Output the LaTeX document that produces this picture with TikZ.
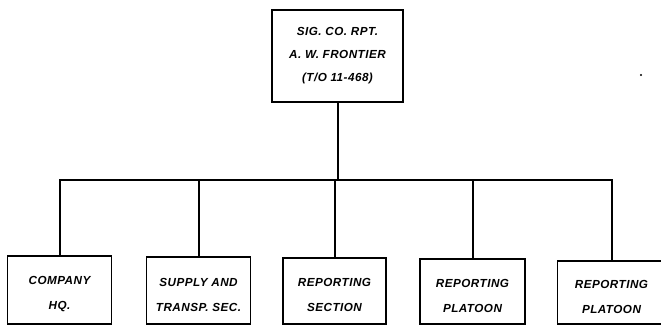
\documentclass[tikz,border=0pt]{standalone}
\usepackage{fontspec}
\newfontfamily\lettering[LetterSpace=4]{Liberation Sans}
\begin{document}
\begin{tikzpicture}[x=1pt,y=-1pt,
  box/.style={draw, line width=1.3pt, rectangle, align=center, inner sep=0pt,
    font=\lettering\bfseries\itshape\fontsize{11.7}{25}\selectfont},
  link/.style={line width=2pt}]
\clip (0,0) rectangle (661,326);
\fill[white] (0,0) rectangle (661,326);
\node[box, minimum width=131pt, minimum height=92pt,
  font=\lettering\bfseries\itshape\fontsize{11.7}{23}\selectfont] (top) at (337.5,56)
  {SIG. CO. RPT.\\A. W. FRONTIER\\(T/O 11-468)};
\node[box, minimum width=104pt, minimum height=68pt] (b1) at (59.5,290)
  {\rule{0pt}{17pt}COMPANY\\HQ.};
\node[box, minimum width=104pt, minimum height=67pt] (b2) at (198.5,290.5)
  {\rule{0pt}{17pt}SUPPLY AND\\TRANSP. SEC.};
\node[box, minimum width=103pt, minimum height=66pt] (b3) at (334.5,291)
  {\rule{0pt}{17pt}REPORTING\\SECTION};
\node[box, minimum width=105pt, minimum height=65pt] (b4) at (472.5,291.5)
  {\rule{0pt}{17pt}REPORTING\\PLATOON};
\node[box, minimum width=108pt, minimum height=63pt] (b5) at (611.5,292.5)
  {\rule{0pt}{17pt}REPORTING\\PLATOON};
\coordinate (j) at (337,179.5);
\draw[link] (top.south) -- (top.south |- j);
\draw[link] (b1.north) -- (b1.north |- j) -- (b5.north |- j) -- (b5.north);
\draw[link] (b2.north) -- (b2.north |- j);
\draw[link] (b3.north) -- (b3.north |- j);
\draw[link] (b4.north) -- (b4.north |- j);
\fill (641,75) circle (1.2pt);
\end{tikzpicture}
\end{document}
